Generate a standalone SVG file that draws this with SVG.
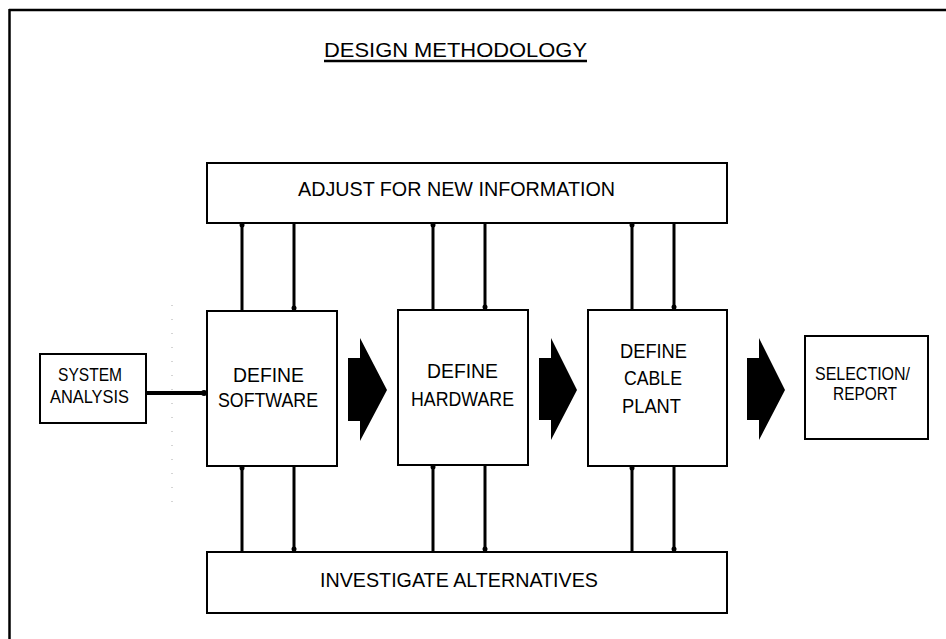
<svg xmlns="http://www.w3.org/2000/svg" width="946" height="639" viewBox="0 0 946 639">
<style>
.box{fill:#fff;stroke:#000;stroke-width:2}
.t{font-family:"Liberation Sans","DejaVu Sans",sans-serif;fill:#000}
.c{stroke:#000;stroke-width:3;fill:none}
.big{fill:#000}
</style>
<rect width="946" height="639" fill="#fff"/>
<g id="frame">
<line x1="9" y1="10" x2="946" y2="10" stroke="#000" stroke-width="2.5"/>
<line x1="9.5" y1="9" x2="9.5" y2="639" stroke="#000" stroke-width="2.5"/>
<line x1="172" y1="305" x2="172" y2="512" stroke="#aaa" stroke-width="1" stroke-dasharray="1 13"/>
</g>
<g id="title">
<text class="t" x="324" y="57" font-size="21" textLength="263" lengthAdjust="spacingAndGlyphs">DESIGN METHODOLOGY</text>
<line x1="324" y1="61" x2="587" y2="61" stroke="#000" stroke-width="2.5"/>
</g>
<g id="connectors">
<line class="c" x1="242" y1="223" x2="242" y2="311"/>
<line class="c" x1="294" y1="223" x2="294" y2="311"/>
<line class="c" x1="433" y1="223" x2="433" y2="310"/>
<line class="c" x1="485" y1="223" x2="485" y2="310"/>
<line class="c" x1="632" y1="223" x2="632" y2="310"/>
<line class="c" x1="674" y1="223" x2="674" y2="310"/>
<line class="c" x1="242" y1="466" x2="242" y2="552"/>
<line class="c" x1="294" y1="466" x2="294" y2="552"/>
<line class="c" x1="433" y1="465" x2="433" y2="552"/>
<line class="c" x1="485" y1="465" x2="485" y2="552"/>
<line class="c" x1="632" y1="466" x2="632" y2="552"/>
<line class="c" x1="674" y1="466" x2="674" y2="552"/>
<line x1="146" y1="393" x2="207" y2="393" stroke="#000" stroke-width="4"/>
<circle cx="242" cy="225" r="2.5"/><circle cx="294" cy="308" r="2.5"/>
<circle cx="433" cy="225" r="2.5"/><circle cx="485" cy="307" r="2.5"/>
<circle cx="632" cy="225" r="2.5"/><circle cx="674" cy="307" r="2.5"/>
<circle cx="242" cy="468" r="2.5"/><circle cx="294" cy="549" r="2.5"/>
<circle cx="433" cy="467" r="2.5"/><circle cx="485" cy="549" r="2.5"/>
<circle cx="632" cy="468" r="2.5"/><circle cx="674" cy="549" r="2.5"/>
<circle cx="204" cy="393" r="3"/>
<polygon class="big" points="348,358 360,358 360,338 387,390 360,441 360,421 348,421"/>
<polygon class="big" points="539,358 551,358 551,338 577,390 551,440 551,420 539,420"/>
<polygon class="big" points="747,358 759,358 759,338 785,390 759,440 759,420 747,420"/>
</g>
<g id="adjust">
<rect class="box" x="207" y="163" width="520" height="60"/>
<text class="t" x="298" y="196" font-size="21" textLength="317" lengthAdjust="spacingAndGlyphs">ADJUST FOR NEW INFORMATION</text>
</g>
<g id="investigate">
<rect class="box" x="207" y="552" width="520" height="61"/>
<text class="t" x="320" y="587" font-size="21" textLength="278" lengthAdjust="spacingAndGlyphs">INVESTIGATE ALTERNATIVES</text>
</g>
<g id="system">
<rect class="box" x="40" y="354" width="106" height="69"/>
<text class="t" x="58" y="381" font-size="19" textLength="64" lengthAdjust="spacingAndGlyphs">SYSTEM</text>
<text class="t" x="50" y="403" font-size="19" textLength="79" lengthAdjust="spacingAndGlyphs">ANALYSIS</text>
</g>
<g id="software">
<rect class="box" x="207" y="311" width="130" height="155"/>
<text class="t" x="233" y="382" font-size="21" textLength="71" lengthAdjust="spacingAndGlyphs">DEFINE</text>
<text class="t" x="218" y="407" font-size="21" textLength="100" lengthAdjust="spacingAndGlyphs">SOFTWARE</text>
</g>
<g id="hardware">
<rect class="box" x="398" y="310" width="130" height="155"/>
<text class="t" x="427" y="378" font-size="21" textLength="71" lengthAdjust="spacingAndGlyphs">DEFINE</text>
<text class="t" x="411" y="406" font-size="21" textLength="103" lengthAdjust="spacingAndGlyphs">HARDWARE</text>
</g>
<g id="cable">
<rect class="box" x="588" y="310" width="139" height="156"/>
<text class="t" x="620" y="358" font-size="21" textLength="67" lengthAdjust="spacingAndGlyphs">DEFINE</text>
<text class="t" x="624" y="385" font-size="21" textLength="58" lengthAdjust="spacingAndGlyphs">CABLE</text>
<text class="t" x="622" y="413" font-size="21" textLength="59" lengthAdjust="spacingAndGlyphs">PLANT</text>
</g>
<g id="selection">
<rect class="box" x="805" y="336" width="123" height="103"/>
<text class="t" x="815" y="380" font-size="18" textLength="95" lengthAdjust="spacingAndGlyphs">SELECTION/</text>
<text class="t" x="833" y="400" font-size="18" textLength="64" lengthAdjust="spacingAndGlyphs">REPORT</text>
</g>
</svg>
